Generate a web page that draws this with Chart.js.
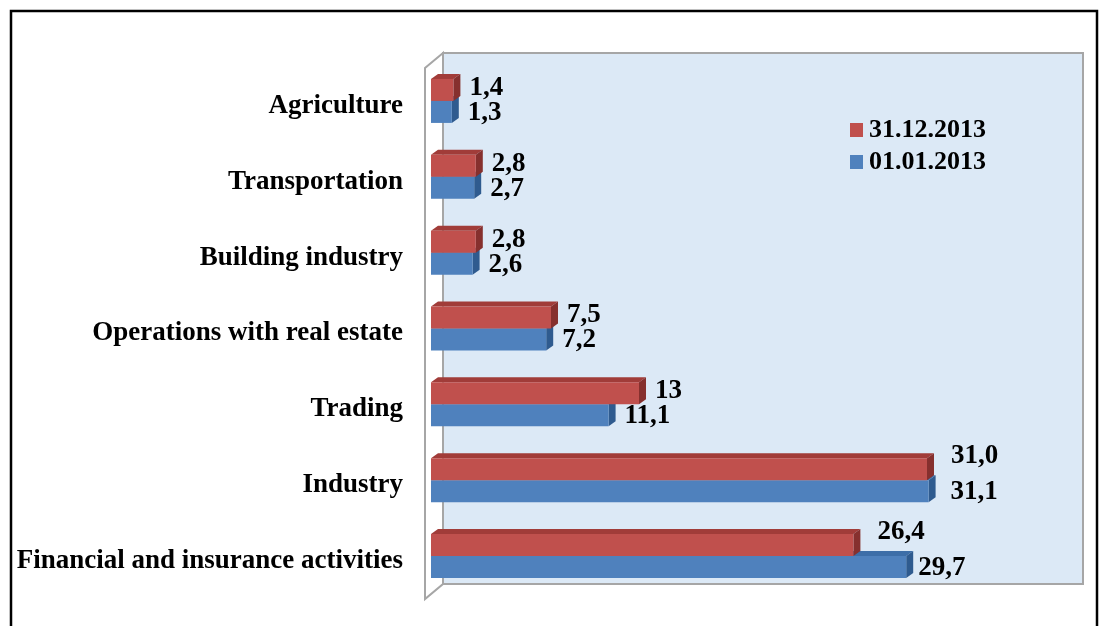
<!DOCTYPE html>
<html>
<head>
<meta charset="utf-8">
<script src="https://cdn.jsdelivr.net/npm/chart.js@4/dist/chart.umd.min.js"></script>
<style>
  html, body { margin: 0; padding: 0; background: #fff; }
  canvas { display: block; }
</style>
</head>
<body>
<canvas id="myChart" width="1108" height="626"></canvas>
<script>
// categories, top to bottom
const categories = [
    'Agriculture',
    'Transportation',
    'Building industry',
    'Operations with real estate',
    'Trading',
    'Industry',
    'Financial and insurance activities'
];

const endLabel = '31.12.2013';
const endValues = [1.4, 2.8, 2.8, 7.5, 13, 31.0, 26.4];
const endText = ['1,4', '2,8', '2,8', '7,5', '13', '31,0', '26,4'];

const startLabel = '01.01.2013';
const startValues = [1.3, 2.7, 2.6, 7.2, 11.1, 31.1, 29.7];
const startText = ['1,3', '2,7', '2,6', '7,2', '11,1', '31,1', '29,7'];

const FONT = '"Liberation Serif", "Times New Roman", serif';
const DEPTH_X = 7, DEPTH_Y = 5;

const faces = {
    0: { top: '#a13c39', side: '#86302e' },
    1: { top: '#3d6ea8', side: '#2f5b8f' }
};

// frame + 3d walls behind the plot
const wallsPlugin = {
    id: 'walls',
    beforeDraw(chart) {
        const { ctx, chartArea: a } = chart;
        ctx.save();
        ctx.fillStyle = '#ffffff';
        ctx.fillRect(0, 0, chart.width, chart.height);

        // outer frame
        ctx.strokeStyle = '#000';
        ctx.lineWidth = 2.5;
        ctx.strokeRect(11, 11, chart.width - 22, chart.height + 40);

        const bx = a.left + 12, by = a.top - 10;
        const bw = a.right - a.left, bh = a.bottom - a.top;
        // back wall
        ctx.fillStyle = '#dce9f6';
        ctx.fillRect(bx, by, bw, bh);
        ctx.strokeStyle = '#a6a6a6';
        ctx.lineWidth = 2;
        ctx.strokeRect(bx, by, bw, bh);

        // left side wall
        const fx = a.left - 6, fy = a.top + 5;
        ctx.beginPath();
        ctx.moveTo(bx, by);
        ctx.lineTo(fx, fy);
        ctx.lineTo(fx, a.bottom + 5);
        ctx.lineTo(bx, by + bh);
        ctx.closePath();
        ctx.fillStyle = '#ffffff';
        ctx.fill();
        ctx.stroke();
        ctx.restore();
    },
    beforeDatasetsDraw(chart) {
        const { ctx } = chart;
        ctx.save();
        // blue faces first, then red on top of them
        [1, 0].forEach(di => {
            const meta = chart.getDatasetMeta(di);
            meta.data.forEach(bar => {
                const { x, y, base, height } = bar.getProps(['x', 'y', 'base', 'height'], true);
                const top = y - height / 2, bottom = y + height / 2;
                ctx.fillStyle = faces[di].top;
                ctx.beginPath();
                ctx.moveTo(base, top);
                ctx.lineTo(base + DEPTH_X, top - DEPTH_Y);
                ctx.lineTo(x + DEPTH_X, top - DEPTH_Y);
                ctx.lineTo(x, top);
                ctx.closePath();
                ctx.fill();
                ctx.fillStyle = faces[di].side;
                ctx.beginPath();
                ctx.moveTo(x, top);
                ctx.lineTo(x + DEPTH_X, top - DEPTH_Y);
                ctx.lineTo(x + DEPTH_X, bottom - DEPTH_Y);
                ctx.lineTo(x, bottom);
                ctx.closePath();
                ctx.fill();
            });
        });
        ctx.restore();
    }
};

// value labels and legend inside the plot
const labelsPlugin = {
    id: 'valueLabels',
    afterDatasetsDraw(chart) {
        const { ctx, chartArea: a } = chart;
        ctx.save();
        ctx.font = 'bold 27px ' + FONT;
        ctx.fillStyle = '#000';
        ctx.textBaseline = 'middle';
        ctx.textAlign = 'left';
        const texts = [endText, startText];
        [0, 1].forEach(di => {
            const vals = chart.data.datasets[di].data;
            chart.getDatasetMeta(di).data.forEach((bar, i) => {
                const { x, y } = bar.getProps(['x', 'y'], true);
                let dx = 16, dy = di === 0 ? -2 : 1;
                if (di === 0 && vals[i] >= 20) { dx = 24; dy = -13; }
                if (di === 1 && vals[i] >= 30) dx = 22;
                if (di === 1 && vals[i] < 30 && vals[i] >= 20) dx = 12;
                ctx.fillText(texts[di][i], x + dx, y + dy);
            });
        });

        // legend
        ctx.font = 'bold 26px ' + FONT;
        const lx = a.left + 419, ly = a.top + 67;
        chart.data.datasets.forEach((ds, i) => {
            const yy = ly + i * 32;
            ctx.fillStyle = ds.backgroundColor;
            ctx.fillRect(lx, yy - 7, 13, 14);
            ctx.fillStyle = '#000';
            ctx.fillText(ds.label, lx + 19, yy);
        });
        ctx.restore();
    }
};

new Chart(document.getElementById('myChart'), {
    type: 'bar',
    data: {
        labels: categories,
        datasets: [
            { label: endLabel, data: endValues, backgroundColor: '#c0504d' },
            { label: startLabel, data: startValues, backgroundColor: '#4f81bd' }
        ]
    },
    options: {
        indexAxis: 'y',
        responsive: false,
        devicePixelRatio: 1,
        animation: false,
        layout: { padding: { top: 63, right: 37, bottom: 32, left: 0 } },
        datasets: { bar: { categoryPercentage: 0.58, barPercentage: 1.0, borderWidth: 0 } },
        plugins: { legend: { display: false }, tooltip: { enabled: false } },
        scales: {
            x: { display: false, min: 0, max: 40 },
            y: {
                grid: { display: false, drawTicks: false },
                border: { display: false },
                ticks: {
                    padding: 28,
                    labelOffset: 5,
                    color: '#000',
                    font: { family: FONT, size: 27, weight: 'bold' }
                },
                afterFit(scale) {
                    scale.width = 431;
                    // don't let label overhang shrink the plot
                    scale.paddingTop = 0;
                    scale.paddingBottom = 0;
                }
            }
        }
    },
    plugins: [wallsPlugin, labelsPlugin]
});
</script>
</body>
</html>
